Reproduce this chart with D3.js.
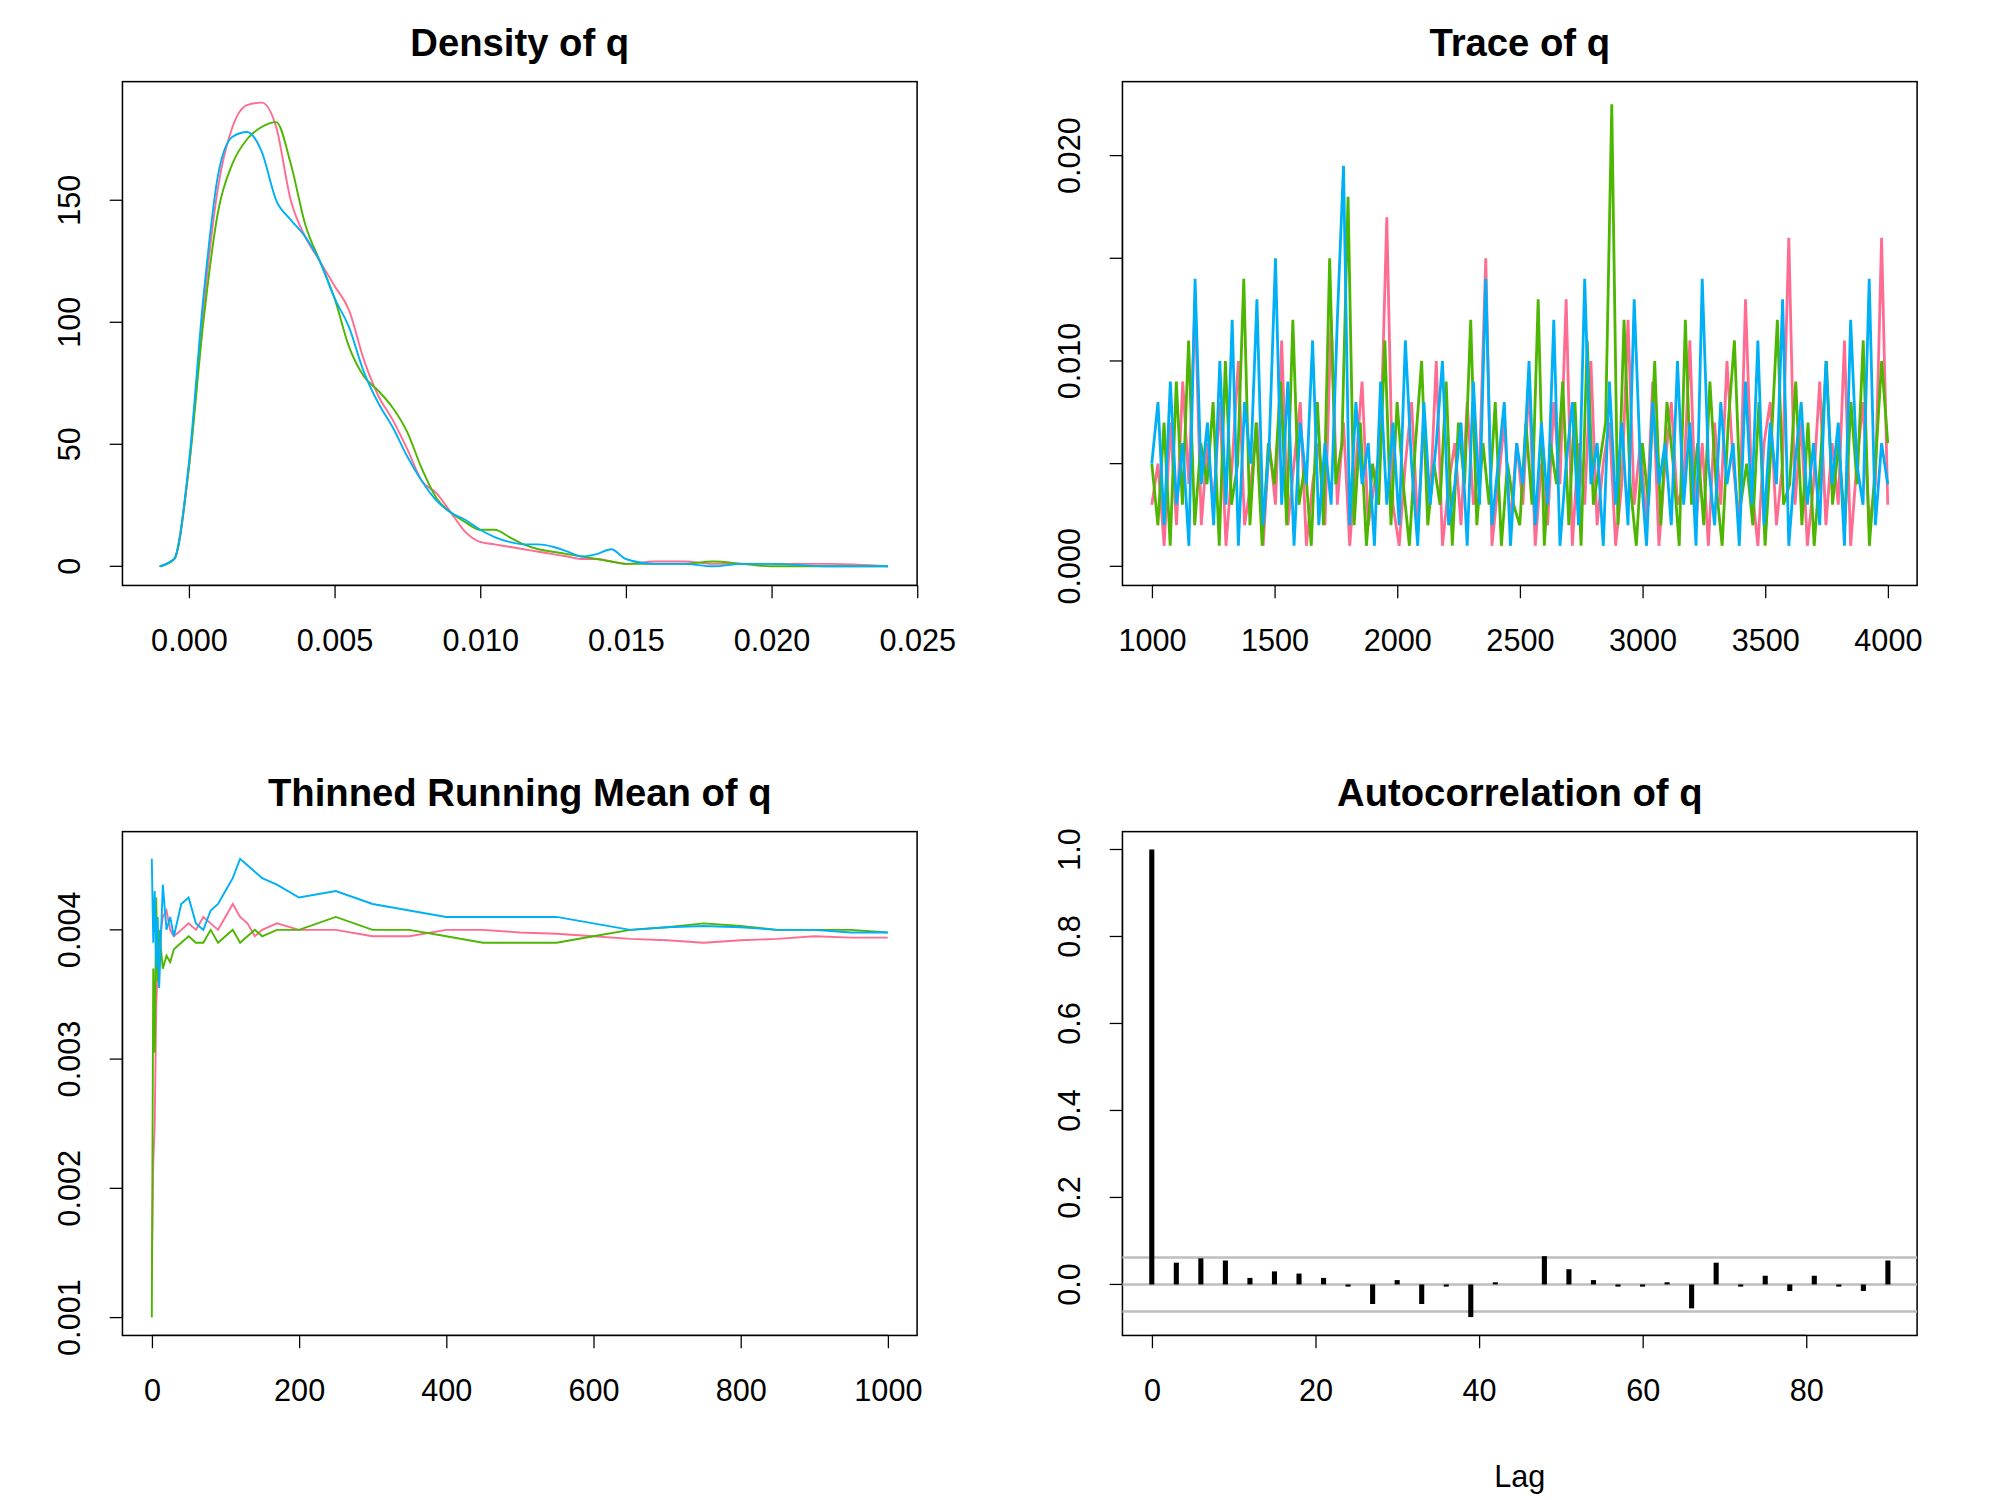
<!DOCTYPE html>
<html><head><meta charset="utf-8">
<script src="https://cdn.jsdelivr.net/npm/d3@7"></script>
<style>body{margin:0;background:#fff}</style>
</head><body><div id="chart"></div>
<script>
/* MCMC diagnostics for q: density, trace, running mean, autocorrelation */
const colors = ['#FF6C91', '#4DB600', '#00B0F6'];

// density (x in q units, y density)
const densX = [-0.001,-0.0005,0,0.0005,0.001,0.0015,0.002,0.0025,0.003,0.0035,0.004,0.0045,0.005,0.0055,0.006,0.0065,0.007,0.0075,0.008,0.0085,0.009,0.0095,0.01,0.0105,0.011,0.0115,0.012,0.0125,0.013,0.0135,0.014,0.0145,0.015,0.016,0.017,0.018,0.019,0.02,0.022,0.024];
const densPink  = [0,3,40,105,155,180,189,190,180,150,135,125,115,105,85,70,60,48,35,30,22,14,10,9,8,7,6,5,4,3,3,2,1,2,2,1,1,1,1,0];
const densGreen = [0,3,40,100,145,165,175,180,182,165,140,125,110,90,78,72,65,55,40,28,22,18,15,15,12,9,7,6,5,4,3,2,1,1,1,2,1,0,0,0];
const densBlue  = [0,3,42,110,160,176,178,170,150,142,135,125,110,98,80,67,57,45,35,27,22,19,15,12,10,9,9,8,6,4,5,7,3,1,1,0,1,1,0,0];

// trace, in units of 0.001, iterations 1000..4000
const tracePink  = [3,5,1,7,2,9,4,13,2,6,3,8,1,5,10,2,4,7,1,6,3,11,2,5,8,1,4,6,2,12,3,7,1,5,9,2,4,6,17,3,1,5,8,2,7,3,10,1,4,6,2,8,3,5,15,1,4,7,2,6,3,9,1,5,2,8,4,13,1,6,3,10,2,5,7,1,4,12,3,6,2,9,1,5,8,3,4,11,2,6,1,7,3,10,5,2,13,4,1,6,8,2,5,16,3,7,1,4,9,2,6,3,11,1,5,8,2,4,16,3];
const traceGreen = [5,2,7,1,9,3,11,2,6,4,8,1,10,3,5,14,2,7,1,6,4,9,2,12,3,5,1,8,2,15,4,6,18,2,7,1,5,3,11,2,8,4,1,6,10,2,5,3,9,1,7,4,12,2,6,3,8,1,5,3,2,7,3,13,1,6,4,9,2,8,1,11,3,5,7,22.5,2,12,4,1,6,3,10,2,8,5,1,12,3,6,2,9,4,1,7,11,3,5,2,8,1,6,12,3,4,9,2,7,1,5,10,3,6,2,8,4,11,1,5,10,6];
const traceBlue  = [5,8,2,9,3,6,1,14,4,7,2,10,3,12,1,8,5,13,2,6,15,3,9,1,7,4,11,2,6,3,12,19.5,2,8,4,6,1,9,3,7,2,11,5,1,8,3,6,10,2,4,7,1,9,3,14,2,5,8,1,6,4,10,2,7,3,12,1,5,8,2,14,4,6,1,9,3,7,2,13,5,1,8,4,6,2,10,3,7,1,14,5,2,8,4,6,1,9,3,11,2,7,4,13,1,5,8,3,6,2,10,4,7,1,12,5,3,14,2,6,4];

// thinned running mean, units of 0.001
const rmX = [0,2,4,6,8,10,15,20,25,30,40,50,60,70,80,90,100,110,120,130,140,150,170,200,250,300,350,400,450,500,550,600,650,700,750,800,850,900,950,1000];
const rmPink  = [1.3,2.2,2.5,3.4,3.7,3.9,4.1,4.15,4.0,3.95,4.0,4.05,4.0,4.1,4.05,4.0,4.1,4.2,4.1,4.05,3.95,4.0,4.05,4.0,4.0,3.95,3.95,4.0,4.0,3.98,3.97,3.95,3.93,3.92,3.9,3.92,3.93,3.95,3.94,3.94];
const rmGreen = [1.0,3.7,3.05,4.25,3.6,4.0,3.7,3.8,3.75,3.85,3.9,3.95,3.9,3.9,4.0,3.9,3.95,4.0,3.9,3.95,4.0,3.95,4.0,4.0,4.1,4.0,4.0,3.95,3.9,3.9,3.9,3.95,4.0,4.02,4.05,4.03,4.0,4.0,4.0,3.98];
const rmBlue  = [4.55,3.9,4.3,3.7,4.1,3.55,4.35,4.0,4.1,3.95,4.2,4.25,4.05,4.0,4.15,4.2,4.3,4.4,4.55,4.5,4.45,4.4,4.35,4.25,4.3,4.2,4.15,4.1,4.1,4.1,4.1,4.05,4.0,4.02,4.03,4.02,4.0,4.0,3.98,3.98];

// autocorrelation, lags 0,3,...,90
const acfVals = [1.0,0.05,0.06,0.055,0.015,0.03,0.025,0.015,-0.005,-0.045,0.01,-0.045,-0.005,-0.075,0.005,0.0,0.065,0.035,0.01,-0.005,-0.005,0.005,-0.055,0.05,-0.005,0.02,-0.015,0.02,-0.005,-0.015,0.055];
const acfBound = 0.062;

const svg = d3.select('#chart').append('svg')
  .attr('width', 2000).attr('height', 1500)
  .attr('viewBox', '0 0 1568 1176')
  .attr('preserveAspectRatio', 'none')
  .style('font-family', 'Liberation Sans, Arial, sans-serif');

function panel(box, title, xs, ys, xTicks, yTicks, xFmt, yFmt){
  const g = svg.append('g');
  g.append('rect').attr('x', box.x0).attr('y', box.y0)
    .attr('width', box.x1-box.x0).attr('height', box.y1-box.y0)
    .attr('fill', 'none').attr('stroke', '#000').attr('stroke-width', 1.2);
  g.append('text').attr('x', (box.x0+box.x1)/2).attr('y', box.y0-20)
    .attr('text-anchor', 'middle').attr('font-weight', 'bold').attr('font-size', 30).text(title);
  const ax = g.append('g').attr('transform', `translate(0,${box.y1})`)
    .call(d3.axisBottom(xs).tickValues(xTicks).tickFormat(xFmt).tickSizeOuter(0).tickSize(10).tickPadding(24));
  ax.select('.domain').attr('d', `M${xs(xTicks[0])},0H${xs(xTicks[xTicks.length-1])}`);
  ax.selectAll('text').attr('font-size', 24).attr('fill', '#000');
  const ay = g.append('g').attr('transform', `translate(${box.x0},0)`)
    .call(d3.axisLeft(ys).tickValues(yTicks).tickFormat(yFmt).tickSizeOuter(0).tickSize(10));
  ay.select('.domain').attr('d', `M0,${ys(yTicks[0])}V${ys(yTicks[yTicks.length-1])}`);
  ay.selectAll('text').attr('font-size', 24).attr('fill', '#000')
    .attr('text-anchor', 'middle').attr('x', 0).attr('dy', 0)
    .attr('transform', d => `translate(-40,${ys(d)}) rotate(-90)`).attr('y', 0)
    .attr('dominant-baseline', 'middle');
  ay.selectAll('.tick').attr('transform', null);
  ay.selectAll('.tick line').attr('y1', d => ys(d)).attr('y2', d => ys(d));
  return g;
}

// Density
{
  const box = {x0:96, x1:719, y0:64, y1:459};
  const xs = d3.scaleLinear().domain([0, 0.025]).range([148, 719]);
  const ys = d3.scaleLinear().domain([0, 150]).range([444, 157]);
  const g = panel(box, 'Density of q', xs, ys, [0,0.005,0.01,0.015,0.02,0.025], [0,50,100,150], d3.format('.3f'), d3.format('d'));
  const line = d3.line().x((d,i) => xs(densX[i])).y(d => ys(d)).curve(d3.curveMonotoneX);
  [densPink, densGreen, densBlue].forEach((s,k) =>
    g.append('path').attr('d', line(s)).attr('fill','none').attr('stroke', colors[k]).attr('stroke-width', 1.5));
}
// Trace
{
  const box = {x0:880, x1:1503, y0:64, y1:459};
  const xs = d3.scaleLinear().domain([1000, 4000]).range([903, 1480]);
  const ys = d3.scaleLinear().domain([0, 0.02]).range([444, 122]);
  const g = panel(box, 'Trace of q', xs, ys, [1000,1500,2000,2500,3000,3500,4000], [0,0.005,0.01,0.015,0.02],
    d3.format('d'), d => Math.round(d*1000) % 10 === 0 ? d3.format('.3f')(d) : '');
  [tracePink, traceGreen, traceBlue].forEach((s,k) => {
    const line = d3.line().x((d,i) => xs(1000 + i*3000/(s.length-1))).y(d => ys(d/1000));
    g.append('path').attr('d', line(s)).attr('fill','none').attr('stroke', colors[k]).attr('stroke-width', 2.2);
  });
}
// Running mean
{
  const box = {x0:96, x1:719, y0:652, y1:1047};
  const xs = d3.scaleLinear().domain([0, 1000]).range([119, 696]);
  const ys = d3.scaleLinear().domain([0.001, 0.004]).range([1033, 729]);
  const g = panel(box, 'Thinned Running Mean of q', xs, ys, [0,200,400,600,800,1000], [0.001,0.002,0.003,0.004], d3.format('d'), d3.format('.3f'));
  const line = d3.line().x((d,i) => xs(rmX[i])).y(d => ys(d/1000));
  [rmPink, rmGreen, rmBlue].forEach((s,k) =>
    g.append('path').attr('d', line(s)).attr('fill','none').attr('stroke', colors[k]).attr('stroke-width', 1.5));
}
// Autocorrelation
{
  const box = {x0:880, x1:1503, y0:652, y1:1047};
  const xs = d3.scaleLinear().domain([0, 80]).range([903, 1416]);
  const ys = d3.scaleLinear().domain([0, 1]).range([1007, 666]);
  const g = panel(box, 'Autocorrelation of q', xs, ys, [0,20,40,60,80], [0,0.2,0.4,0.6,0.8,1.0], d3.format('d'), d3.format('.1f'));
  [0, acfBound, -acfBound].forEach(v =>
    g.append('line').attr('x1', box.x0).attr('x2', box.x1).attr('y1', ys(v)).attr('y2', ys(v))
      .attr('stroke', '#bebebe').attr('stroke-width', 2));
  g.selectAll('.bar').data(acfVals).join('line')
    .attr('x1', (d,i) => xs(i*3)).attr('x2', (d,i) => xs(i*3))
    .attr('y1', ys(0)).attr('y2', d => ys(d))
    .attr('stroke', '#000').attr('stroke-width', 4);
  g.append('text').attr('x', (box.x0+box.x1)/2).attr('y', 1166).attr('text-anchor','middle')
    .attr('font-size', 24).text('Lag');
}
</script></body></html>
